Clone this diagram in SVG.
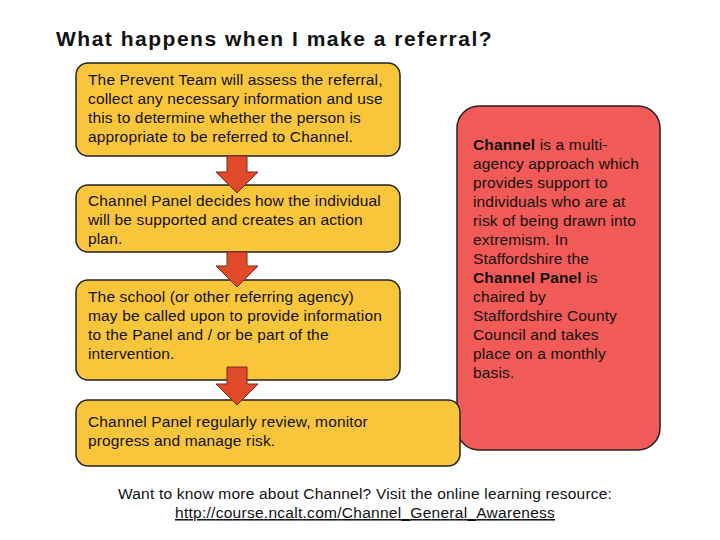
<svg xmlns="http://www.w3.org/2000/svg" width="720" height="540" viewBox="0 0 720 540">
<style>
.box{fill:#f9c53a;stroke:#222;stroke-width:1.5}
.red{fill:#f25a57;stroke:#222;stroke-width:1.5}
.arr{fill:#e04a2a;stroke:#7a2a10;stroke-width:1}
text{font-family:"Liberation Sans",Arial,sans-serif;font-size:15.5px;fill:#111;letter-spacing:0.15px}
.t{font-size:21px;font-weight:bold;letter-spacing:0.4px}
</style>
<rect width="720" height="540" fill="#fff"/>
<text class="t" x="56" y="46" textLength="436">What happens when I make a referral?</text>
<g id="channel-info">
<rect class="red" x="457" y="106" width="203" height="344" rx="22"/>
<text x="473" y="150"><tspan font-weight="bold">Channel</tspan> is a multi-</text>
<text x="473" y="169">agency approach which</text>
<text x="473" y="188">provides support to</text>
<text x="473" y="207">individuals who are at</text>
<text x="473" y="226">risk of being drawn into</text>
<text x="473" y="245">extremism. In</text>
<text x="473" y="264">Staffordshire the</text>
<text x="473" y="283"><tspan font-weight="bold">Channel Panel</tspan> is</text>
<text x="473" y="302">chaired by</text>
<text x="473" y="321">Staffordshire County</text>
<text x="473" y="340">Council and takes</text>
<text x="473" y="359">place on a monthly</text>
<text x="473" y="378">basis.</text>
</g>
<g id="step1">
<rect class="box" x="76" y="63" width="324" height="93" rx="12"/>
<text x="88" y="85">The Prevent Team will assess the referral,</text>
<text x="88" y="104">collect any necessary information and use</text>
<text x="88" y="123">this to determine whether the person is</text>
<text x="88" y="142">appropriate to be referred to Channel.</text>
</g>
<g id="step2">
<rect class="box" x="76" y="185" width="324" height="67" rx="12"/>
<text x="88" y="206">Channel Panel decides how the individual</text>
<text x="88" y="225">will be supported and creates an action</text>
<text x="88" y="244">plan.</text>
</g>
<g id="step3">
<rect class="box" x="76" y="280" width="324" height="100" rx="12"/>
<text x="88" y="302">The school (or other referring agency)</text>
<text x="88" y="321">may be called upon to provide information</text>
<text x="88" y="340">to the Panel and / or be part of the</text>
<text x="88" y="359">intervention.</text>
</g>
<g id="step4">
<rect class="box" x="76" y="400" width="384" height="66" rx="12"/>
<text x="88" y="427">Channel Panel regularly review, monitor</text>
<text x="88" y="446">progress and manage risk.</text>
</g>
<g id="connectors">
<path class="arr" d="M227 156 H247 V172 H258 L237 193 L216 172 H227 Z"/>
<path class="arr" d="M227 252 H247 V266 H258 L237 287 L216 266 H227 Z"/>
<path class="arr" d="M227 367 H247 V384 H258 L237 405 L216 384 H227 Z"/>
</g>
<text x="118" y="499" textLength="494">Want to know more about Channel? Visit the online learning resource:</text>
<text x="175" y="518" text-decoration="underline" textLength="380">http://course.ncalt.com/Channel_General_Awareness</text>
</svg>
